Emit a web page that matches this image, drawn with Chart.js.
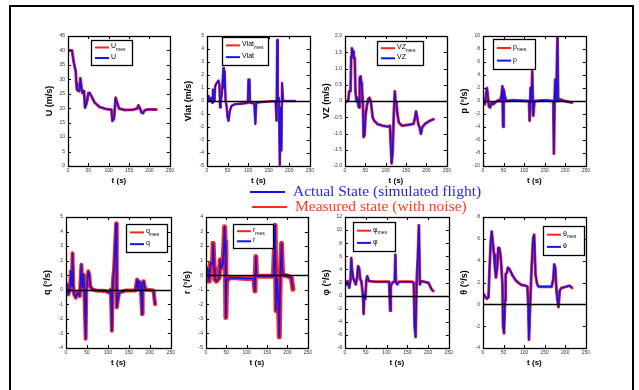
<!DOCTYPE html>
<html>
<head>
<meta charset="utf-8">
<script src="https://cdn.jsdelivr.net/npm/chart.js@4.4.0/dist/chart.umd.min.js"></script>
<style>
  body { margin: 0; background: #fff; width: 639px; height: 390px; overflow: hidden; position: relative; }
  .frame { position: absolute; left: 9px; top: 5px; width: 621px; height: 420px; border: 2px solid #000; }
  canvas { position: absolute; }
  .key { position: absolute; font-family: "Liberation Serif", serif; font-size: 15.5px; white-space: nowrap; }
  .key span { display: inline-block; width: 35px; height: 2px; vertical-align: middle; margin-right: 8px; }
</style>
</head>
<body>
<div class="frame"></div>
<div id="plots"></div>
<div class="key" style="left:250px; top:182px; color:#2626f0;"><span style="background:#1010ee"></span>Actual State (simulated flight)</div>
<div class="key" style="left:252px; top:197px; color:#ff3a20;"><span style="background:#ff2a1a"></span>Measured state (with noise)</div>
<script>
// time ticks shared by every subplot
const timeTicks = [0, 50, 100, 150, 200, 250];

// U (m/s)
const uT = [0, 9.8, 14, 19, 20.5, 22, 27, 28.7, 30.3, 32.8, 35.2, 39.3, 41.8, 45, 47.5, 50, 53.3, 57.4, 65.6, 78, 94, 106.6, 109, 113, 117, 120.5, 125.4, 139, 160, 170, 173, 176, 181, 184, 188.5, 197, 217];
const uV = [40, 40, 36, 32.7, 28.7, 26.4, 25.9, 26.5, 30.4, 27.5, 25.3, 26, 20.2, 21.5, 23, 25.3, 25.3, 24.2, 21.9, 20.4, 19.7, 19.5, 15.6, 16.5, 23.6, 22, 19.9, 19.4, 19.5, 19.9, 21, 20.2, 18.4, 18.3, 19.3, 19.6, 19.6];

// Vlat (m/s)
const vlatT = [0, 4, 6.3, 9.5, 12.7, 14.3, 15.9, 18.3, 19.8, 23.8, 27.8, 30.2, 31.7, 33.3, 36.5, 39.7, 41.3, 42.9, 45.2, 47.6, 50, 52.4, 55.6, 59.5, 67.5, 83.3, 99.2, 100.8, 103.2, 104.8, 115, 117.5, 119.8, 135, 166.7, 169, 170.6, 172.2, 174.6, 177, 179.4, 181, 182.5, 185, 198, 214];
const vlatV = [-0.13, 0.38, 0, 0.25, -0.13, 0.89, 0.76, 0, 1.14, 1.39, 1.57, 1.27, -0.5, -0.13, 0.63, 2.53, 1.0, 2.28, 0, -0.38, -1.27, -1.52, -0.76, -0.38, -0.25, -0.2, -0.15, 1.65, 1.65, -0.13, -0.2, -1.77, -0.13, -0.08, 0, -1.52, 4.68, 0, 0.25, -4.94, -0.5, -3.8, 1.39, 0, 0, 0];

// VZ (m/s)
const vzT = [0, 5.6, 8, 10.4, 13.6, 15.2, 16.8, 20, 21.6, 24, 25.6, 28, 30.4, 32.8, 34.4, 36, 38.4, 40, 41.6, 44, 45.6, 48, 50.4, 53.6, 56.8, 60, 63.2, 65.6, 68, 72, 80, 92, 108, 110.4, 112, 114.4, 116.8, 120, 122.4, 124, 126.4, 128.8, 132, 140, 156, 168, 172, 174.4, 176.8, 180, 183.2, 186.4, 189.6, 196, 208, 217.6];
const vzV = [-0.05, 0, 0.02, 0.3, 0.3, 1.37, 1.62, 1.52, 1.32, 1.32, 0.3, 0, 0.1, -0.15, -0.2, 0.71, 0.76, 0.56, 0.41, -0.1, -1.11, -1.06, -0.46, -0.15, 0.05, 0.1, 0, -0.25, -0.51, -0.61, -0.71, -0.76, -0.79, -0.76, -1.22, -1.92, -1.62, -0.35, 0.3, 0, -0.05, -0.41, -0.66, -0.76, -0.73, -0.71, -0.51, -0.32, -0.46, -0.71, -0.81, -1.01, -0.81, -0.71, -0.61, -0.56];

// p (deg/s)
const pT = [0, 4.7, 9.4, 11.8, 14.2, 17.3, 21.3, 25.2, 29.1, 37, 40.9, 44.9, 47.2, 48.8, 50.4, 52.8, 56.7, 72.4, 111.8, 113.4, 115.7, 118.1, 119.7, 122, 125.2, 151.2, 170.9, 172.4, 174, 175.6, 178, 181.1, 182.7, 186.6, 198.4, 216.5];
const pV = [0, -0.5, 2.0, 0.8, -0.8, -1.0, -0.25, -0.5, -0.25, 0.1, 0, 0.76, 2.28, -3.95, 1.77, 0.76, 0, 0.1, 0, -3.04, 2.03, 0, 4.56, -2.28, 0, 0.1, 0, -8.1, 0, 3.29, 0, 10, 0, 0.25, 0, -0.25];

// q (deg/s)
const qT = [0, 3.1, 5.5, 9.4, 11.7, 14.1, 15.6, 17.2, 19.5, 23.4, 27.3, 32.8, 36.7, 39.1, 42.2, 44.5, 46.9, 48.4, 50.8, 53.1, 55.5, 57.8, 62.5, 71.9, 95.3, 103.1, 107, 109.4, 110.9, 112.5, 114.8, 117.2, 119.5, 121.1, 123.4, 126.6, 142.2, 165.6, 169.5, 171.9, 173.4, 178.1, 181.3, 182.8, 185.2, 189.1, 208.6, 212.5];
const qV = [-0.05, 0.36, -0.32, 0.02, 1.27, 0.25, 2.51, 0.36, -0.32, -0.54, -0.2, -0.43, 1.72, 0.14, 1.04, -0.77, -3.37, -0.09, 0.59, 1.27, 1.04, 0.25, 0.02, -0.05, -0.09, -0.2, 0.02, -2.81, -0.32, 0.81, 1.49, 3.08, 4.55, -1.22, -0.77, -0.2, -0.05, -0.05, 0.7, 0.02, 0.59, 0.48, -1.67, 0.36, 0.59, 0.02, -0.05, -1.0];

// r (deg/s)
const rT = [0, 1.6, 5.6, 8, 11.2, 13.6, 16, 17.6, 20, 21.6, 25.6, 32, 35.2, 37.6, 41.6, 45.6, 47.2, 48.8, 50.4, 53.6, 57.6, 73.6, 97.6, 117.6, 120, 122.4, 124, 145.6, 165.6, 169.6, 172, 174.4, 177.6, 180, 182.4, 185.6, 188, 201.6, 209.6, 213.6];
const rV = [-0.41, 0.5, 0.38, -0.41, 0.84, 0.72, 0.84, 2.19, 0.5, -0.29, -0.41, -0.18, 1.06, 0.5, 0.72, 3.33, 2.31, -2.9, -0.41, -0.29, -0.18, -0.18, -0.23, -0.23, -1.09, 1.29, -0.07, -0.07, -0.07, 3.44, -2.44, -0.18, -1.76, -4.25, 0.05, 2.19, 0.05, -0.07, -0.18, -0.97];

// phi
const phiT = [0, 3.9, 6.3, 10.2, 13.4, 15, 17.3, 19.7, 22.8, 26, 29.1, 31.5, 33.9, 37, 39.4, 43.3, 44.9, 46.5, 48.8, 51.2, 53.5, 57.5, 74.8, 106.3, 108.7, 110.2, 114.2, 119.7, 121.3, 122.8, 126, 129.9, 161.4, 165.4, 167.7, 170.1, 172.4, 175.6, 177.9, 180.3, 183.5, 200.8, 204.7, 208.7, 212.6];
const phiV = [2.21, 1.71, 2.21, 1.21, 2.46, 5.73, 3.72, 2.71, 2.21, 1.71, 2.71, 4.47, 4.22, 2.46, 2.21, -0.05, -2.81, 0.2, -0.55, 2.21, 2.96, 2.21, 2.11, 2.11, -2.31, 1.46, 1.96, 2.21, 6.23, 1.96, 1.71, 2.11, 2.11, 1.96, -4.82, -6.33, 1.96, 6.23, 10.75, 1.71, 2.21, 1.96, 1.46, 0.95, 0.7];

// theta
const thetaT = [0, 3.1, 5.5, 9.4, 13.4, 15.7, 18.9, 21.3, 23.6, 26.8, 29.1, 31.5, 34.6, 37, 39.4, 42.5, 44.9, 47.2, 48.8, 51.2, 53.5, 55.1, 58.3, 60.6, 64.6, 72.4, 80.3, 92.1, 103.9, 107.9, 110.2, 111.8, 114.2, 118.1, 122, 124.4, 127.6, 131.5, 135.4, 166.9, 170.9, 173.2, 175.6, 178.7, 181.1, 183.5, 186.6, 190.6, 202.4, 210.2, 216.5];
const thetaV = [0.81, 0.87, 0.66, 0.51, 0.66, 3.06, 5.77, 6.67, 5.77, 4.56, 3.36, 2.46, 3.36, 5.17, 5.17, 4.56, 3.36, 1.86, -2.04, -2.64, 0.36, 2.76, 2.91, 3.36, 3.21, 2.61, 2.16, 1.8, 1.71, 1.62, -0.24, -3.24, -0.54, 3.36, 6.07, 6.37, 2.76, 1.86, 1.62, 1.62, 2.31, 3.66, 3.36, 1.26, 0.36, -0.24, 1.26, 1.5, 1.62, 1.71, 1.5];

// subplot layout: plot area box in page pixels, axis range, legend box offset
const plots = [
  { t: uT, v: uV, sym: 'U', ytitle: 'U (m/s)', min: 0, max: 45, step: 5, zero: false, red: 3,
    box: [68, 34, 172, 166], leg: [23, 4, 41, 25] },
  { t: vlatT, v: vlatV, sym: 'Vlat', ytitle: 'Vlat (m/s)', min: -5, max: 5, step: 1, zero: true, red: 2.6,
    box: [207, 34, 312, 166], leg: [15, 1, 46, 28] },
  { t: vzT, v: vzV, sym: 'VZ', ytitle: 'VZ (m/s)', min: -2, max: 2, step: 0.5, zero: true, red: 3,
    box: [345, 34, 449, 166], leg: [32, 5, 46, 24] },
  { t: pT, v: pV, sym: 'p', ytitle: 'p (°/s)', min: -10, max: 10, step: 2, zero: true, red: 3,
    box: [483, 34, 588, 166], leg: [10, 3, 42, 30] },
  { t: qT, v: qV, sym: 'q', ytitle: 'q (°/s)', min: -4, max: 5, step: 1, zero: true, red: 4,
    box: [66, 215, 173, 348], leg: [60, 7, 41, 28] },
  { t: rT, v: rV, sym: 'r', ytitle: 'r (°/s)', min: -5, max: 4, step: 1, zero: true, red: 5,
    box: [206, 215, 310, 348], leg: [27, 7, 40, 24] },
  { t: phiT, v: phiV, sym: 'φ', ytitle: 'φ (°/s)', min: -8, max: 12, step: 2, zero: true, red: 3,
    box: [345, 215, 451, 348], leg: [8, 5, 42, 29] },
  { t: thetaT, v: thetaV, sym: 'θ', ytitle: 'θ (°/s)', min: -4, max: 8, step: 2, zero: true, red: 3,
    box: [483, 215, 588, 348], leg: [60, 9, 41, 29] }
];

const BLUE = '#1414f0';
const RED = '#ff2418';
const YW = 24, XH = 20, PT = 4, PR = 4;

// MATLAB style box, inward ticks and zero line
const axesBox = {
  id: 'axesBox',
  afterDatasetsDraw(chart, args, opts) {
    const { ctx, chartArea: a, scales } = chart;
    ctx.save();
    ctx.strokeStyle = '#000';
    ctx.lineWidth = 1;
    if (opts.zero) {
      const y0 = Math.round(scales.y.getPixelForValue(0)) + 0.5;
      ctx.lineWidth = 1.5;
      ctx.beginPath(); ctx.moveTo(a.left, y0); ctx.lineTo(a.right, y0); ctx.stroke();
      ctx.lineWidth = 1;
    }
    ctx.beginPath();
    scales.x.ticks.forEach(tk => {
      const x = Math.round(scales.x.getPixelForValue(tk.value)) + 0.5;
      ctx.moveTo(x, a.bottom); ctx.lineTo(x, a.bottom - 3);
      ctx.moveTo(x, a.top); ctx.lineTo(x, a.top + 3);
    });
    scales.y.ticks.forEach(tk => {
      const y = Math.round(scales.y.getPixelForValue(tk.value)) + 0.5;
      ctx.moveTo(a.left, y); ctx.lineTo(a.left + 3, y);
      ctx.moveTo(a.right, y); ctx.lineTo(a.right - 3, y);
    });
    ctx.stroke();
    ctx.lineWidth = 1.3;
    ctx.strokeRect(Math.round(a.left) + 0.5, Math.round(a.top) + 0.5, Math.round(a.right - a.left), Math.round(a.bottom - a.top));
    ctx.restore();
  }
};

// small boxed legend with "mes" subscript
const boxLegend = {
  id: 'boxLegend',
  afterDraw(chart, args, opts) {
    const { ctx, chartArea: a } = chart;
    const [dx, dy, w, h] = opts.leg;
    const x = a.left + dx, y = a.top + dy;
    ctx.save();
    ctx.fillStyle = '#fff';
    ctx.fillRect(x, y, w, h);
    ctx.strokeStyle = '#000';
    ctx.lineWidth = 1.3;
    ctx.strokeRect(x + 0.5, y + 0.5, w, h);
    const rows = [[RED, true], [BLUE, false]];
    rows.forEach(([col, mes], i) => {
      const ly = y + h * (i === 0 ? 0.3 : 0.72);
      ctx.strokeStyle = col;
      ctx.lineWidth = 2;
      ctx.beginPath(); ctx.moveTo(x + 4, ly); ctx.lineTo(x + 18, ly); ctx.stroke();
      ctx.fillStyle = '#000';
      ctx.textBaseline = 'middle';
      ctx.font = '7px "Liberation Sans", Arial';
      ctx.fillText(opts.sym, x + 20, ly - 1);
      if (mes) {
        const sw = ctx.measureText(opts.sym).width;
        ctx.font = '5px "Liberation Sans", Arial';
        ctx.fillText('mes', x + 20 + sw, ly + 2);
      }
    });
    ctx.restore();
  }
};

const holder = document.getElementById('plots');

plots.forEach(p => {
  const [L, T, R, B] = p.box;
  const cv = document.createElement('canvas');
  const W = R - L + YW + PR, H = B - T + PT + XH;
  cv.width = W; cv.height = H;
  cv.style.left = (L - YW) + 'px';
  cv.style.top = (T - PT) + 'px';
  cv.style.width = W + 'px';
  cv.style.height = H + 'px';
  holder.appendChild(cv);

  const pts = p.t.map((t, i) => ({ x: t, y: p.v[i] }));

  new Chart(cv.getContext('2d'), {
    type: 'line',
    data: {
      datasets: [
        { label: p.sym + ' mes', data: pts, borderColor: RED, borderWidth: p.red, pointRadius: 0,
          borderJoinStyle: 'round', borderCapStyle: 'round', tension: 0, order: 2 },
        { label: p.sym, data: pts, borderColor: BLUE, borderWidth: 1.6, pointRadius: 0,
          borderJoinStyle: 'round', tension: 0, order: 1 }
      ]
    },
    options: {
      responsive: false,
      animation: false,
      devicePixelRatio: 1,
      layout: { padding: { top: PT, right: PR, left: 0, bottom: 0 } },
      plugins: {
        legend: { display: false },
        tooltip: { enabled: false },
        axesBox: { zero: p.zero },
        boxLegend: { leg: p.leg, sym: p.sym }
      },
      scales: {
        x: {
          type: 'linear', min: 0, max: 250,
          afterBuildTicks: s => { s.ticks = timeTicks.map(v => ({ value: v })); },
          afterFit: s => { s.height = XH; },
          grid: { display: false, drawTicks: false, tickLength: 0 }, border: { display: false },
          ticks: { font: { size: 5, family: 'Liberation Sans' }, color: '#333', padding: 2, maxRotation: 0 },
          title: { display: true, text: 't (s)', font: { size: 8, weight: 'bold', family: 'Liberation Sans' }, color: '#000', padding: 0 }
        },
        y: {
          type: 'linear', min: p.min, max: p.max,
          ticks: { stepSize: p.step, font: { size: 5, family: 'Liberation Sans' }, color: '#333', padding: 3 },
          afterFit: s => { s.width = YW; },
          grid: { display: false, drawTicks: false, tickLength: 0 }, border: { display: false },
          title: { display: true, text: p.ytitle, font: { size: 9, weight: 'bold', family: 'Liberation Sans' }, color: '#000', padding: 0 }
        }
      }
    },
    plugins: [axesBox, boxLegend]
  });
});
</script>
</body>
</html>
